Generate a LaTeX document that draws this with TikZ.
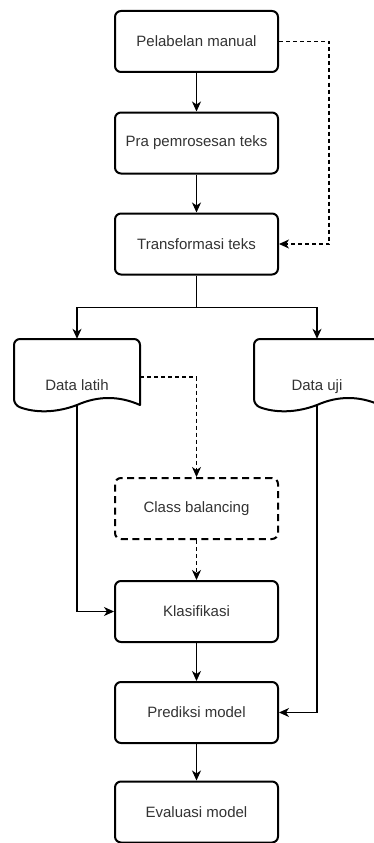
\documentclass[tikz,border=0pt]{standalone}
\usepackage{fontspec}
\setmainfont{Liberation Sans}
\usetikzlibrary{arrows.meta,calc}
\begin{document}
\begin{tikzpicture}[x=1pt,y=-1pt,
  font=\fontsize{15pt}{18pt}\selectfont,
  procbox/.style={draw=black, line width=2pt, rounded corners=6pt, minimum width=163pt, minimum height=61pt, inner sep=0pt, text=black!80},
  dashbox/.style={procbox, dash pattern=on 7pt off 4.5pt},
  docnode/.style={draw=none, minimum width=126pt, minimum height=76pt, inner sep=0pt, text height=27pt, text depth=0pt, text=black!80},
  docline/.style={draw=black, line width=2pt, line join=round},
  conn/.style={draw=black, line width=1.1pt, -{Stealth[length=10pt,width=9pt,inset=3pt]}},
  plainconn/.style={draw=black, line width=1.1pt},
  dconn/.style={conn, dash pattern=on 4pt off 3pt}
]
\clip (0,0) rectangle (374,843);
\fill[white] (0,0) rectangle (374,843);

\node[procbox] (pel) at (196.5,41.5) {Pelabelan manual};
\node[procbox] (pra) at (196.5,143) {Pra pemrosesan teks};
\node[procbox] (tra) at (196.5,244) {Transformasi teks};
\node[docnode] (dl) at (77,377) {Data latih};
\node[docnode] (du) at (317,377) {Data uji};
\node[dashbox] (cb) at (196.5,508.5) {Class balancing};
\node[procbox] (kla) at (196.5,611.5) {Klasifikasi};
\node[procbox] (pre) at (196.5,712.5) {Prediksi model};
\node[procbox] (eva) at (196.5,812) {Evaluasi model};

% document shapes
\foreach \d in {dl,du}{
  \begin{scope}[shift={(\d.center)}]
    \draw[docline] (63,28) [rounded corners=6pt] -- (63,-38) -- (-63,-38) -- (-63,28) [sharp corners]
      .. controls (-42,36) and (-21,36) .. (0,28)
      .. controls (21,18.67) and (42,18.67) .. (63,28) -- cycle;
  \end{scope}
}

% connectors
\draw[conn] (pel.south) -- (pra.north);
\draw[conn] (pra.south) -- (tra.north);
\draw[dconn] (pel.east) -- ++(50,0) |- (tra.east);
\draw[conn] (tra.south) -- ++(0,32) -| (dl.north);
\draw[conn] (tra.south) -- ++(0,32) -| (du.north);
\draw[dconn] (dl.east) -| (cb.north);
\draw[dconn] (cb.south) -- (kla.north);
\draw[conn] ([yshift=-28pt]dl.center) |- (kla.west);
\draw[conn] ([yshift=-28pt]du.center) |- (pre.east);
\draw[conn] (kla.south) -- (pre.north);
\draw[conn] (pre.south) -- (eva.north);
\end{tikzpicture}
\end{document}
